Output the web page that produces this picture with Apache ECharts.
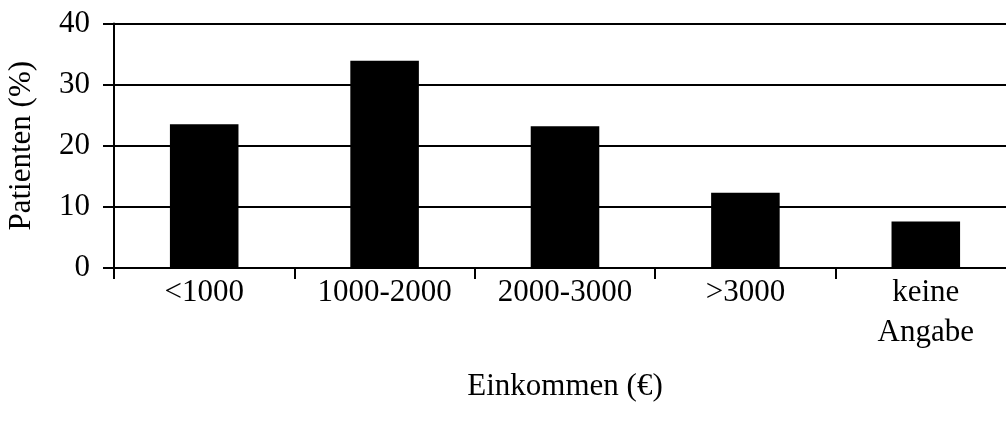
<!DOCTYPE html>
<html>
<head>
<meta charset="utf-8">
<script src="https://cdn.jsdelivr.net/npm/echarts@6/dist/echarts.min.js"></script>
<style>
	html, body { margin: 0; padding: 0; background: #fff; }
	#chart { width: 1006px; height: 425px; }
</style>
</head>
<body>
<div id="chart"></div>
<script>
	var categories = ['<1000', '1000-2000', '2000-3000', '>3000', 'keine\nAngabe'];
	var patienten = [23.5, 33.9, 23.2, 12.3, 7.6];
	var yTicks = [0, 10, 20, 30, 40];

	var fontFamily = '"Liberation Serif", "DejaVu Serif", serif';
	var black = '#000';

	var option = {
		backgroundColor: '#fff',
		animation: false,
		grid: {
			left: 114,
			top: 23.5,
			width: 902,
			height: 244.5,
			outerBoundsMode: 'none'
		},
		xAxis: {
			type: 'category',
			data: categories,
			name: 'Einkommen (€)',
			nameLocation: 'middle',
			nameGap: 103,
			nameTextStyle: { color: black, fontSize: 31, fontFamily: fontFamily },
			axisLine: { show: true, lineStyle: { color: black, width: 2 } },
			axisTick: { show: true, alignWithLabel: false, length: 11, lineStyle: { color: black, width: 2 } },
			axisLabel: {
				interval: 0,
				color: black,
				fontSize: 31,
				fontFamily: fontFamily,
				margin: 5,
				lineHeight: 40
			},
			splitLine: { show: false }
		},
		yAxis: {
			type: 'value',
			min: yTicks[0],
			max: yTicks[yTicks.length - 1],
			interval: 10,
			name: 'Patienten (%)',
			nameLocation: 'middle',
			nameGap: 77,
			nameTextStyle: { color: black, fontSize: 31, fontFamily: fontFamily },
			axisLine: { show: true, lineStyle: { color: black, width: 2 } },
			axisTick: { show: true, length: 11, lineStyle: { color: black, width: 2 } },
			axisLabel: { color: black, fontSize: 31, fontFamily: fontFamily, margin: 24 },
			splitLine: { show: true, lineStyle: { color: black, width: 2 } }
		},
		series: [{
			type: 'bar',
			barWidth: '38%',
			itemStyle: { color: black },
			data: patienten
		}]
	};

	var myChart = echarts.init(document.getElementById('chart'));
	myChart.setOption(option);
</script>
</body>
</html>
